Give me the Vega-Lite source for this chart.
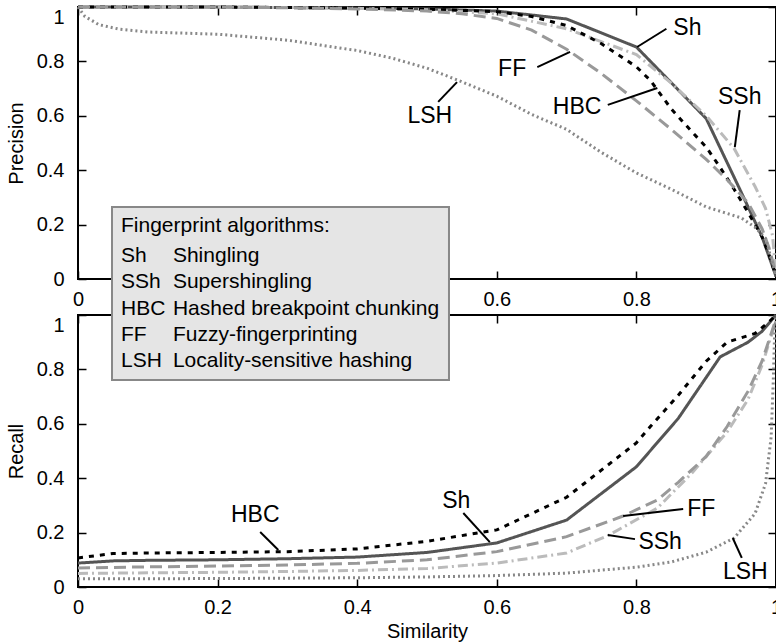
{
  "$schema": "https://vega.github.io/schema/vega-lite/v6.json",
  "padding": {"left": 5, "top": 0, "right": 0, "bottom": 0},
  "background": "white",
  "bounds": "flush",
  "spacing": 36,
  "config": {
    "font": "Liberation Sans",
    "view": {"stroke": "black", "strokeWidth": 2},
    "axis": {
      "grid": false,
      "domain": false,
      "ticks": true,
      "tickSize": -8,
      "tickColor": "black",
      "tickWidth": 1.5,
      "labelFont": "Liberation Sans",
      "labelFontSize": 20,
      "labelColor": "black",
      "titleFont": "Liberation Sans",
      "titleFontSize": 20,
      "titleFontWeight": "normal",
      "titleColor": "black"
    },
    "text": {"font": "Liberation Sans", "color": "black"}
  },
  "datasets": {
    "prec": [
      {"alg": "Sh", "s": 0, "v": 1.0}, {"alg": "Sh", "s": 0.1, "v": 1.0}, {"alg": "Sh", "s": 0.2, "v": 1.0}, {"alg": "Sh", "s": 0.3, "v": 0.998}, {"alg": "Sh", "s": 0.4, "v": 0.996}, {"alg": "Sh", "s": 0.5, "v": 0.993}, {"alg": "Sh", "s": 0.6, "v": 0.985}, {"alg": "Sh", "s": 0.7, "v": 0.956}, {"alg": "Sh", "s": 0.8, "v": 0.853}, {"alg": "Sh", "s": 0.9, "v": 0.59}, {"alg": "Sh", "s": 0.95, "v": 0.32}, {"alg": "Sh", "s": 0.98, "v": 0.155}, {"alg": "Sh", "s": 1.0, "v": 0.01},
      {"alg": "SSh", "s": 0, "v": 1.0}, {"alg": "SSh", "s": 0.1, "v": 1.0}, {"alg": "SSh", "s": 0.2, "v": 1.0}, {"alg": "SSh", "s": 0.3, "v": 0.998}, {"alg": "SSh", "s": 0.4, "v": 0.995}, {"alg": "SSh", "s": 0.5, "v": 0.99}, {"alg": "SSh", "s": 0.6, "v": 0.975}, {"alg": "SSh", "s": 0.7, "v": 0.92}, {"alg": "SSh", "s": 0.8, "v": 0.825}, {"alg": "SSh", "s": 0.85, "v": 0.72}, {"alg": "SSh", "s": 0.9, "v": 0.6}, {"alg": "SSh", "s": 0.94, "v": 0.48}, {"alg": "SSh", "s": 0.97, "v": 0.34}, {"alg": "SSh", "s": 0.985, "v": 0.26}, {"alg": "SSh", "s": 0.995, "v": 0.16}, {"alg": "SSh", "s": 1.0, "v": 0.02},
      {"alg": "HBC", "s": 0, "v": 1.0}, {"alg": "HBC", "s": 0.1, "v": 1.0}, {"alg": "HBC", "s": 0.2, "v": 1.0}, {"alg": "HBC", "s": 0.3, "v": 0.998}, {"alg": "HBC", "s": 0.4, "v": 0.996}, {"alg": "HBC", "s": 0.5, "v": 0.992}, {"alg": "HBC", "s": 0.6, "v": 0.983}, {"alg": "HBC", "s": 0.65, "v": 0.965}, {"alg": "HBC", "s": 0.7, "v": 0.932}, {"alg": "HBC", "s": 0.75, "v": 0.865}, {"alg": "HBC", "s": 0.8, "v": 0.78}, {"alg": "HBC", "s": 0.82, "v": 0.73}, {"alg": "HBC", "s": 0.85, "v": 0.625}, {"alg": "HBC", "s": 0.88, "v": 0.54}, {"alg": "HBC", "s": 0.9, "v": 0.485}, {"alg": "HBC", "s": 0.92, "v": 0.41}, {"alg": "HBC", "s": 0.94, "v": 0.33}, {"alg": "HBC", "s": 0.96, "v": 0.245}, {"alg": "HBC", "s": 0.98, "v": 0.155}, {"alg": "HBC", "s": 0.99, "v": 0.09}, {"alg": "HBC", "s": 1.0, "v": 0.01},
      {"alg": "FF", "s": 0, "v": 1.0}, {"alg": "FF", "s": 0.1, "v": 1.0}, {"alg": "FF", "s": 0.2, "v": 1.0}, {"alg": "FF", "s": 0.3, "v": 0.997}, {"alg": "FF", "s": 0.4, "v": 0.993}, {"alg": "FF", "s": 0.5, "v": 0.985}, {"alg": "FF", "s": 0.55, "v": 0.975}, {"alg": "FF", "s": 0.6, "v": 0.958}, {"alg": "FF", "s": 0.65, "v": 0.915}, {"alg": "FF", "s": 0.7, "v": 0.845}, {"alg": "FF", "s": 0.75, "v": 0.755}, {"alg": "FF", "s": 0.8, "v": 0.655}, {"alg": "FF", "s": 0.85, "v": 0.55}, {"alg": "FF", "s": 0.9, "v": 0.44}, {"alg": "FF", "s": 0.93, "v": 0.365}, {"alg": "FF", "s": 0.96, "v": 0.28}, {"alg": "FF", "s": 0.98, "v": 0.185}, {"alg": "FF", "s": 0.99, "v": 0.115}, {"alg": "FF", "s": 1.0, "v": 0.02},
      {"alg": "LSH", "s": 0, "v": 1.0}, {"alg": "LSH", "s": 0.01, "v": 0.965}, {"alg": "LSH", "s": 0.03, "v": 0.935}, {"alg": "LSH", "s": 0.06, "v": 0.918}, {"alg": "LSH", "s": 0.1, "v": 0.908}, {"alg": "LSH", "s": 0.2, "v": 0.9}, {"alg": "LSH", "s": 0.3, "v": 0.878}, {"alg": "LSH", "s": 0.4, "v": 0.84}, {"alg": "LSH", "s": 0.45, "v": 0.812}, {"alg": "LSH", "s": 0.5, "v": 0.775}, {"alg": "LSH", "s": 0.55, "v": 0.725}, {"alg": "LSH", "s": 0.6, "v": 0.672}, {"alg": "LSH", "s": 0.65, "v": 0.605}, {"alg": "LSH", "s": 0.7, "v": 0.55}, {"alg": "LSH", "s": 0.75, "v": 0.465}, {"alg": "LSH", "s": 0.8, "v": 0.39}, {"alg": "LSH", "s": 0.85, "v": 0.33}, {"alg": "LSH", "s": 0.9, "v": 0.265}, {"alg": "LSH", "s": 0.95, "v": 0.225}, {"alg": "LSH", "s": 0.97, "v": 0.19}, {"alg": "LSH", "s": 0.985, "v": 0.15}, {"alg": "LSH", "s": 1.0, "v": 0.01}
    ],
    "rec": [
      {"alg": "Sh", "s": 0, "v": 0.088}, {"alg": "Sh", "s": 0.05, "v": 0.096}, {"alg": "Sh", "s": 0.1, "v": 0.098}, {"alg": "Sh", "s": 0.2, "v": 0.1}, {"alg": "Sh", "s": 0.3, "v": 0.104}, {"alg": "Sh", "s": 0.4, "v": 0.11}, {"alg": "Sh", "s": 0.5, "v": 0.127}, {"alg": "Sh", "s": 0.6, "v": 0.162}, {"alg": "Sh", "s": 0.7, "v": 0.246}, {"alg": "Sh", "s": 0.8, "v": 0.442}, {"alg": "Sh", "s": 0.86, "v": 0.62}, {"alg": "Sh", "s": 0.92, "v": 0.846}, {"alg": "Sh", "s": 0.96, "v": 0.9}, {"alg": "Sh", "s": 0.98, "v": 0.94}, {"alg": "Sh", "s": 1.0, "v": 1.0},
      {"alg": "SSh", "s": 0, "v": 0.05}, {"alg": "SSh", "s": 0.1, "v": 0.052}, {"alg": "SSh", "s": 0.2, "v": 0.054}, {"alg": "SSh", "s": 0.3, "v": 0.057}, {"alg": "SSh", "s": 0.4, "v": 0.061}, {"alg": "SSh", "s": 0.5, "v": 0.068}, {"alg": "SSh", "s": 0.6, "v": 0.088}, {"alg": "SSh", "s": 0.7, "v": 0.125}, {"alg": "SSh", "s": 0.76, "v": 0.19}, {"alg": "SSh", "s": 0.83, "v": 0.29}, {"alg": "SSh", "s": 0.88, "v": 0.42}, {"alg": "SSh", "s": 0.93, "v": 0.57}, {"alg": "SSh", "s": 0.96, "v": 0.69}, {"alg": "SSh", "s": 0.98, "v": 0.815}, {"alg": "SSh", "s": 1.0, "v": 0.98},
      {"alg": "HBC", "s": 0, "v": 0.107}, {"alg": "HBC", "s": 0.05, "v": 0.123}, {"alg": "HBC", "s": 0.1, "v": 0.125}, {"alg": "HBC", "s": 0.2, "v": 0.127}, {"alg": "HBC", "s": 0.3, "v": 0.13}, {"alg": "HBC", "s": 0.4, "v": 0.14}, {"alg": "HBC", "s": 0.5, "v": 0.168}, {"alg": "HBC", "s": 0.6, "v": 0.21}, {"alg": "HBC", "s": 0.7, "v": 0.33}, {"alg": "HBC", "s": 0.77, "v": 0.47}, {"alg": "HBC", "s": 0.8, "v": 0.53}, {"alg": "HBC", "s": 0.82, "v": 0.59}, {"alg": "HBC", "s": 0.86, "v": 0.705}, {"alg": "HBC", "s": 0.9, "v": 0.83}, {"alg": "HBC", "s": 0.93, "v": 0.9}, {"alg": "HBC", "s": 0.97, "v": 0.932}, {"alg": "HBC", "s": 0.99, "v": 0.975}, {"alg": "HBC", "s": 1.0, "v": 1.0},
      {"alg": "FF", "s": 0, "v": 0.07}, {"alg": "FF", "s": 0.1, "v": 0.074}, {"alg": "FF", "s": 0.2, "v": 0.077}, {"alg": "FF", "s": 0.3, "v": 0.081}, {"alg": "FF", "s": 0.4, "v": 0.087}, {"alg": "FF", "s": 0.5, "v": 0.1}, {"alg": "FF", "s": 0.6, "v": 0.13}, {"alg": "FF", "s": 0.7, "v": 0.185}, {"alg": "FF", "s": 0.78, "v": 0.26}, {"alg": "FF", "s": 0.83, "v": 0.32}, {"alg": "FF", "s": 0.86, "v": 0.385}, {"alg": "FF", "s": 0.9, "v": 0.48}, {"alg": "FF", "s": 0.93, "v": 0.59}, {"alg": "FF", "s": 0.96, "v": 0.72}, {"alg": "FF", "s": 0.98, "v": 0.83}, {"alg": "FF", "s": 1.0, "v": 0.985},
      {"alg": "LSH", "s": 0, "v": 0.03}, {"alg": "LSH", "s": 0.2, "v": 0.031}, {"alg": "LSH", "s": 0.4, "v": 0.034}, {"alg": "LSH", "s": 0.5, "v": 0.037}, {"alg": "LSH", "s": 0.6, "v": 0.042}, {"alg": "LSH", "s": 0.7, "v": 0.051}, {"alg": "LSH", "s": 0.8, "v": 0.073}, {"alg": "LSH", "s": 0.85, "v": 0.092}, {"alg": "LSH", "s": 0.9, "v": 0.128}, {"alg": "LSH", "s": 0.94, "v": 0.18}, {"alg": "LSH", "s": 0.97, "v": 0.27}, {"alg": "LSH", "s": 0.985, "v": 0.38}, {"alg": "LSH", "s": 0.993, "v": 0.55}, {"alg": "LSH", "s": 0.996, "v": 0.75}, {"alg": "LSH", "s": 0.998, "v": 0.93}, {"alg": "LSH", "s": 1.0, "v": 1.0}
    ],
    "annTop": [
      {"label": "Sh", "s": 0.873, "v": 0.923, "s1": 0.801, "v1": 0.853, "s2": 0.843, "v2": 0.92},
      {"label": "FF", "s": 0.622, "v": 0.772, "s1": 0.658, "v1": 0.779, "s2": 0.705, "v2": 0.835},
      {"label": "HBC", "s": 0.715, "v": 0.632, "s1": 0.759, "v1": 0.64, "s2": 0.83, "v2": 0.702},
      {"label": "SSh", "s": 0.948, "v": 0.669, "s1": 0.948, "v1": 0.621, "s2": 0.941, "v2": 0.485},
      {"label": "LSH", "s": 0.504, "v": 0.599, "s1": 0.516, "v1": 0.651, "s2": 0.543, "v2": 0.724}
    ],
    "annBot": [
      {"label": "HBC", "s": 0.254, "v": 0.265, "s1": 0.261, "v1": 0.202, "s2": 0.287, "v2": 0.136},
      {"label": "Sh", "s": 0.542, "v": 0.316, "s1": 0.552, "v1": 0.272, "s2": 0.59, "v2": 0.165},
      {"label": "FF", "s": 0.893, "v": 0.287, "s1": 0.867, "v1": 0.287, "s2": 0.781, "v2": 0.261},
      {"label": "SSh", "s": 0.834, "v": 0.165, "s1": 0.798, "v1": 0.176, "s2": 0.759, "v2": 0.191},
      {"label": "LSH", "s": 0.956, "v": 0.055, "s1": 0.951, "v1": 0.107, "s2": 0.938, "v2": 0.18}
    ],
    "legend": [
      {"key": "Fingerprint algorithms:", "desc": "", "v": 1.327},
      {"key": "Sh", "desc": "Shingling", "v": 1.217},
      {"key": "SSh", "desc": "Supershingling", "v": 1.121},
      {"key": "HBC", "desc": "Hashed breakpoint chunking", "v": 1.022},
      {"key": "FF", "desc": "Fuzzy-fingerprinting", "v": 0.926},
      {"key": "LSH", "desc": "Locality-sensitive hashing", "v": 0.831}
    ],
    "box": [{"name": "legend"}]
  },
  "vconcat": [
    {
      "width": 698,
      "height": 272,
      "resolve": {"axis": {"x": "independent", "y": "independent"}},
      "layer": [
        {
          "data": {"name": "prec"},
          "mark": {"type": "line", "clip": false},
          "encoding": {
            "x": {"field": "s", "type": "quantitative", "scale": {"domain": [0, 1], "nice": false},
              "axis": {"orient": "bottom", "title": null, "values": [0, 0.2, 0.4, 0.6, 0.8, 1], "format": "~g", "labelPadding": 18, "labelFlush": false}},
            "y": {"field": "v", "type": "quantitative", "scale": {"domain": [0, 1], "nice": false},
              "axis": {"orient": "left", "title": "Precision", "values": [0, 0.2, 0.4, 0.6, 0.8, 1], "format": "~g", "labelPadding": 22, "titlePadding": 10,
                "labelBaseline": {"condition": {"test": "datum.value == 1", "value": "top"}, "value": "middle"}}},
            "color": {"field": "alg", "type": "nominal", "legend": null,
              "scale": {"domain": ["Sh", "SSh", "HBC", "FF", "LSH"], "range": ["#555555", "#bbbbbb", "#000000", "#999999", "#888888"]}},
            "strokeDash": {"field": "alg", "type": "nominal", "legend": null,
              "scale": {"domain": ["Sh", "SSh", "HBC", "FF", "LSH"], "range": [[1, 0], [10, 4, 2, 4], [5, 6], [12, 6], [2, 3]]}},
            "strokeWidth": {"field": "alg", "type": "nominal", "legend": null,
              "scale": {"domain": ["Sh", "SSh", "HBC", "FF", "LSH"], "range": [3, 3, 3.8, 3, 3]}}
          }
        },
        {
          "data": {"name": "annTop"},
          "mark": {"type": "rule", "color": "black", "strokeWidth": 2},
          "encoding": {
            "x": {"field": "s1", "type": "quantitative", "axis": null},
            "y": {"field": "v1", "type": "quantitative", "axis": null},
            "x2": {"field": "s2"},
            "y2": {"field": "v2"}
          }
        },
        {
          "data": {"name": "annTop"},
          "mark": {"type": "text", "fontSize": 23, "align": "center", "baseline": "middle"},
          "encoding": {
            "x": {"field": "s", "type": "quantitative",
              "axis": {"orient": "top", "title": null, "labels": false, "values": [0, 0.2, 0.4, 0.6, 0.8, 1]}},
            "y": {"field": "v", "type": "quantitative",
              "axis": {"orient": "right", "title": null, "labels": false, "values": [0, 0.2, 0.4, 0.6, 0.8, 1]}},
            "text": {"field": "label"}
          }
        }
      ]
    },
    {
      "width": 698,
      "height": 272,
      "resolve": {"axis": {"x": "independent", "y": "independent"}},
      "layer": [
        {
          "data": {"name": "rec"},
          "mark": {"type": "line", "clip": false},
          "encoding": {
            "x": {"field": "s", "type": "quantitative", "scale": {"domain": [0, 1], "nice": false},
              "axis": {"orient": "bottom", "title": "Similarity", "values": [0, 0.2, 0.4, 0.6, 0.8, 1], "format": "~g", "labelPadding": 18, "labelFlush": false, "titlePadding": 4}},
            "y": {"field": "v", "type": "quantitative", "scale": {"domain": [0, 1], "nice": false},
              "axis": {"orient": "left", "title": "Recall", "values": [0, 0.2, 0.4, 0.6, 0.8, 1], "format": "~g", "labelPadding": 22, "titlePadding": 10,
                "labelBaseline": {"condition": {"test": "datum.value == 1", "value": "top"}, "value": "middle"}}},
            "color": {"field": "alg", "type": "nominal", "legend": null,
              "scale": {"domain": ["Sh", "SSh", "HBC", "FF", "LSH"], "range": ["#555555", "#bbbbbb", "#000000", "#999999", "#888888"]}},
            "strokeDash": {"field": "alg", "type": "nominal", "legend": null,
              "scale": {"domain": ["Sh", "SSh", "HBC", "FF", "LSH"], "range": [[1, 0], [10, 4, 2, 4], [5, 6], [12, 6], [2, 3]]}},
            "strokeWidth": {"field": "alg", "type": "nominal", "legend": null,
              "scale": {"domain": ["Sh", "SSh", "HBC", "FF", "LSH"], "range": [3, 3, 3.8, 3, 3]}}
          }
        },
        {
          "data": {"name": "annBot"},
          "mark": {"type": "rule", "color": "black", "strokeWidth": 2},
          "encoding": {
            "x": {"field": "s1", "type": "quantitative", "axis": null},
            "y": {"field": "v1", "type": "quantitative", "axis": null},
            "x2": {"field": "s2"},
            "y2": {"field": "v2"}
          }
        },
        {
          "data": {"name": "annBot"},
          "mark": {"type": "text", "fontSize": 23, "align": "center", "baseline": "middle"},
          "encoding": {
            "x": {"field": "s", "type": "quantitative",
              "axis": {"orient": "top", "title": null, "labels": false, "values": [0, 0.2, 0.4, 0.6, 0.8, 1]}},
            "y": {"field": "v", "type": "quantitative",
              "axis": {"orient": "right", "title": null, "labels": false, "values": [0, 0.2, 0.4, 0.6, 0.8, 1]}},
            "text": {"field": "label"}
          }
        },
        {
          "data": {"name": "box"},
          "mark": {"type": "rect", "fill": "#e5e5e5", "stroke": "#888888", "strokeWidth": 2},
          "encoding": {
            "x": {"datum": 0.0487, "type": "quantitative", "axis": null},
            "x2": {"datum": 0.5315},
            "y": {"datum": 1.397, "type": "quantitative", "axis": null},
            "y2": {"datum": 0.761}
          }
        },
        {
          "data": {"name": "legend"},
          "mark": {"type": "text", "fontSize": 21, "align": "left", "baseline": "middle"},
          "encoding": {
            "x": {"datum": 0.0616, "type": "quantitative", "axis": null},
            "y": {"field": "v", "type": "quantitative", "axis": null},
            "text": {"field": "key"}
          }
        },
        {
          "data": {"name": "legend"},
          "mark": {"type": "text", "fontSize": 21, "align": "left", "baseline": "middle"},
          "encoding": {
            "x": {"datum": 0.136, "type": "quantitative", "axis": null},
            "y": {"field": "v", "type": "quantitative", "axis": null},
            "text": {"field": "desc"}
          }
        }
      ]
    }
  ]
}
